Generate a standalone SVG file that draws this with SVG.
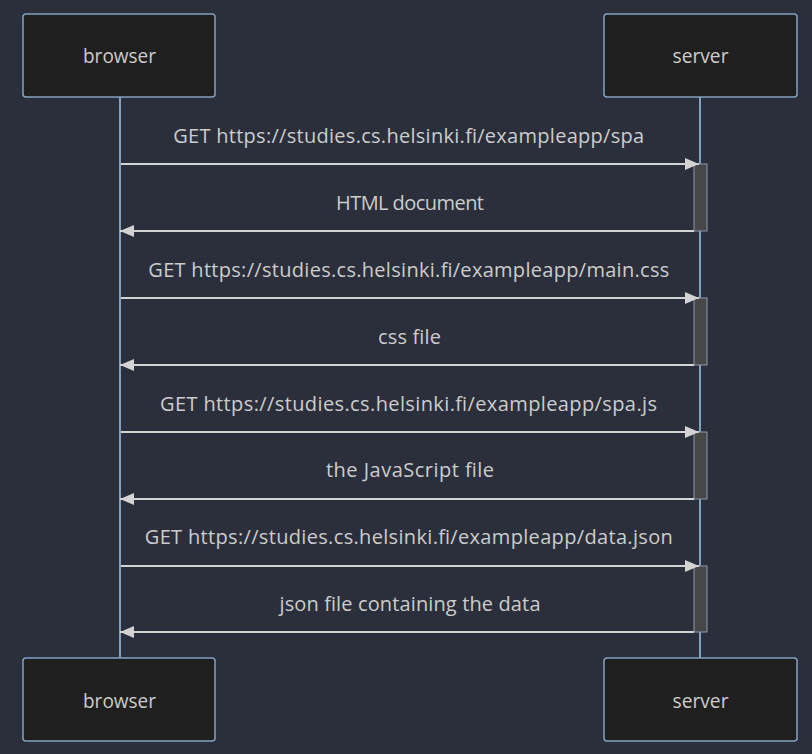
<svg xmlns="http://www.w3.org/2000/svg" width="812" height="754" viewBox="0 0 812 754">
<style>
.actor{fill:#1f1f1f;stroke:#81a1c1;stroke-width:1.5}
.atext{fill:#cccccc;font-family:"Open Sans","DejaVu Sans",sans-serif;font-size:20px;text-anchor:middle}
.life{stroke:#81a1c1;stroke-width:2}
.act{fill:#474747;stroke:#8a9ab0;stroke-width:1}
.msg{stroke:#d3d3d3;stroke-width:2;fill:none}
.mtext{fill:#cccccc;font-family:"Open Sans","DejaVu Sans",sans-serif;font-size:20px;text-anchor:middle}
</style>
<defs>
<marker id="ah" viewBox="0 0 14 12" refX="14" refY="6" markerWidth="14" markerHeight="12" markerUnits="userSpaceOnUse" orient="auto">
<path d="M0,0 L14,6 L0,12 z" fill="#d3d3d3"/>
</marker>
</defs>
<rect width="812" height="754" fill="#2a2f3b"/>
<g id="lifelines">
<line class="life" x1="120" y1="97" x2="120" y2="658"/>
<line class="life" x1="700" y1="97" x2="700" y2="658"/>
</g>
<g id="browser-top"><rect class="actor" x="23" y="14" width="192" height="83" rx="3"/><text class="atext" x="119.5" y="63" textLength="73" lengthAdjust="spacingAndGlyphs">browser</text></g>
<g id="server-top"><rect class="actor" x="604" y="14" width="193" height="83" rx="3"/><text class="atext" x="700.5" y="63" textLength="56" lengthAdjust="spacingAndGlyphs">server</text></g>
<g id="browser-bottom"><rect class="actor" x="23" y="658" width="192" height="83" rx="3"/><text class="atext" x="119.5" y="708" textLength="73" lengthAdjust="spacingAndGlyphs">browser</text></g>
<g id="server-bottom"><rect class="actor" x="604" y="658" width="193" height="83" rx="3"/><text class="atext" x="700.5" y="708" textLength="56" lengthAdjust="spacingAndGlyphs">server</text></g>
<g id="activations">
<rect class="act" x="694" y="164" width="13" height="67"/>
<rect class="act" x="694" y="298" width="13" height="67"/>
<rect class="act" x="694" y="432" width="13" height="67"/>
<rect class="act" x="694" y="566" width="13" height="66"/>
</g>
<g id="connectors">
<line class="msg" x1="121" y1="164" x2="699" y2="164" marker-end="url(#ah)"/>
<line class="msg" x1="694" y1="231" x2="120" y2="231" marker-end="url(#ah)"/>
<line class="msg" x1="121" y1="298" x2="699" y2="298" marker-end="url(#ah)"/>
<line class="msg" x1="694" y1="365" x2="120" y2="365" marker-end="url(#ah)"/>
<line class="msg" x1="121" y1="432" x2="699" y2="432" marker-end="url(#ah)"/>
<line class="msg" x1="694" y1="499" x2="120" y2="499" marker-end="url(#ah)"/>
<line class="msg" x1="121" y1="566" x2="699" y2="566" marker-end="url(#ah)"/>
<line class="msg" x1="694" y1="632" x2="120" y2="632" marker-end="url(#ah)"/>
</g>
<g id="labels">
<text class="mtext" x="408.7" y="143" textLength="471" lengthAdjust="spacing">GET https://studies.cs.helsinki.fi/exampleapp/spa</text>
<text class="mtext" x="410" y="210" textLength="148" lengthAdjust="spacing">HTML document</text>
<text class="mtext" x="408.8" y="277" textLength="521" lengthAdjust="spacing">GET https://studies.cs.helsinki.fi/exampleapp/main.css</text>
<text class="mtext" x="409.5" y="344" textLength="63" lengthAdjust="spacing">css file</text>
<text class="mtext" x="408.5" y="411" textLength="497" lengthAdjust="spacing">GET https://studies.cs.helsinki.fi/exampleapp/spa.js</text>
<text class="mtext" x="410" y="477" textLength="168" lengthAdjust="spacing">the JavaScript file</text>
<text class="mtext" x="408.8" y="544" textLength="528" lengthAdjust="spacing">GET https://studies.cs.helsinki.fi/exampleapp/data.json</text>
<text class="mtext" x="410" y="611" textLength="261" lengthAdjust="spacing">json file containing the data</text>
</g>
</svg>
